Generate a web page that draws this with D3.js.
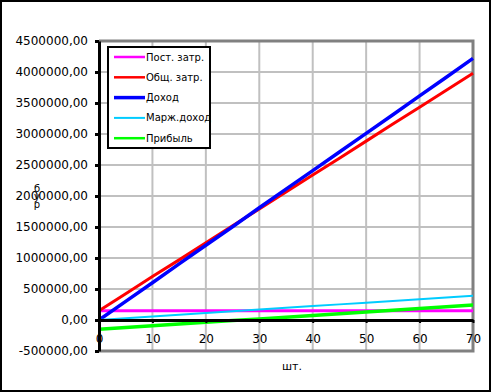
<!DOCTYPE html>
<html>
<head>
<meta charset="utf-8">
<script src="https://cdn.jsdelivr.net/npm/d3@7"></script>
<style>
  body { margin: 0; background: #fff; }
  svg { display: block; font-family: 'DejaVu Sans', sans-serif; }
</style>
</head>
<body>
<svg id="chart" width="491" height="392"></svg>
<script>
// values
const units = [0, 5, 10, 15, 20, 25, 30, 35, 40, 45, 50, 55, 60, 65, 70];
const fixedCost = [150000, 150000, 150000, 150000, 150000, 150000, 150000, 150000, 150000, 150000, 150000, 150000, 150000, 150000, 150000];
const totalCost = [150000, 425000, 700000, 970000, 1245000, 1520000, 1790000, 2065000, 2340000, 2610000, 2885000, 3160000, 3430000, 3705000, 3980000];
const revenue = [0, 300000, 600000, 905000, 1205000, 1505000, 1810000, 2110000, 2410000, 2710000, 3010000, 3310000, 3615000, 3915000, 4220000];
const margin = [0, 28000, 56000, 84000, 112000, 140000, 168000, 196000, 224000, 252000, 280000, 308000, 336000, 364000, 390000];
const profit = [-150000, -122000, -94000, -66000, -38000, -10000, 18000, 46000, 74000, 102000, 130000, 158000, 186000, 214000, 240000];
const xTicks = [0, 10, 20, 30, 40, 50, 60, 70];
const yTicks = [-500000, 0, 500000, 1000000, 1500000, 2000000, 2500000, 3000000, 3500000, 4000000, 4500000];

const series = [
  { name: 'Пост. затр.', values: fixedCost, color: '#ff00ff', width: 3, legendWidth: 2.5 },
  { name: 'Общ. затр.', values: totalCost, color: '#ff0000', width: 3, legendWidth: 2.5 },
  { name: 'Доход', values: revenue, color: '#0000ff', width: 3.5, legendWidth: 3.5 },
  { name: 'Марж.доход', values: margin, color: '#00ccff', width: 2, legendWidth: 2 },
  { name: 'Прибыль', values: profit, color: '#00ff00', width: 3.5, legendWidth: 2.5 },
];

const plot = { left: 99, right: 473, top: 41, bottom: 351 };

const svg = d3.select('#chart');

// outer frame
svg.append('rect')
  .attr('x', 1).attr('y', 1).attr('width', 489).attr('height', 390)
  .attr('fill', '#fff').attr('stroke', '#000').attr('stroke-width', 2);

const x = d3.scaleLinear().domain([0, 70]).range([plot.left, plot.right]);
const y = d3.scaleLinear().domain([-500000, 4500000]).range([plot.bottom, plot.top]);

const loc = d3.formatLocale({ decimal: ',', thousands: '', grouping: [3], currency: ['', ''], minus: '-' });
const fmt = loc.format('.2f');

// grid
const grid = svg.append('g').attr('stroke', '#c0c0c0').attr('stroke-width', 2);
grid.selectAll('.gx').data(xTicks.slice(1, -1)).enter().append('line')
  .attr('x1', d => x(d)).attr('x2', d => x(d))
  .attr('y1', plot.top).attr('y2', plot.bottom);
grid.selectAll('.gy').data(yTicks.slice(1, -1)).enter().append('line')
  .attr('x1', plot.left).attr('x2', plot.right)
  .attr('y1', d => y(d)).attr('y2', d => y(d));

// plot border (top, right, bottom)
svg.append('path')
  .attr('d', `M${plot.left},${plot.top}H${plot.right}V${plot.bottom}H${plot.left}`)
  .attr('fill', 'none').attr('stroke', '#808080').attr('stroke-width', 3);

// lines
const line = d3.line().x((d, i) => x(units[i])).y(d => y(d));
svg.append('g').selectAll('path').data(series).enter().append('path')
  .attr('d', d => line(d.values))
  .attr('fill', 'none')
  .attr('stroke', d => d.color)
  .attr('stroke-width', d => d.width)
  .attr('stroke-linejoin', 'round');

// x axis at zero
const xAxis = svg.append('g')
  .attr('transform', `translate(0,${y(0)})`)
  .call(d3.axisBottom(x).tickValues(xTicks).tickSize(3).tickPadding(11).tickSizeOuter(0));
xAxis.select('.domain').attr('stroke', '#000').attr('stroke-width', 3);
xAxis.selectAll('.tick line').attr('stroke', '#000').attr('stroke-width', 2);
xAxis.selectAll('text').attr('font-size', '12px').attr('fill', '#000')
  .attr('font-family', 'DejaVu Sans, sans-serif');

// y axis
const yAxis = svg.append('g')
  .attr('transform', `translate(${plot.left},0)`)
  .call(d3.axisLeft(y).tickValues(yTicks).tickFormat(fmt).tickSize(4).tickPadding(7).tickSizeOuter(0));
yAxis.select('.domain').attr('stroke', '#000').attr('stroke-width', 3);
yAxis.selectAll('.tick line').attr('stroke', '#000').attr('stroke-width', 3);
yAxis.selectAll('text').attr('font-size', '12px').attr('fill', '#000')
  .attr('font-family', 'DejaVu Sans, sans-serif');

// axis titles
svg.append('text').text('шт.')
  .attr('x', 292).attr('y', 370).attr('text-anchor', 'middle')
  .attr('font-size', '11px').attr('fill', '#000');

// stacked y title (letters overlap the tick label, as in the original)
const yTitle = svg.append('text').attr('font-size', '10px').attr('fill', '#000').attr('text-anchor', 'middle');
['б', 'у', 'р'].forEach((ch, i) => {
  yTitle.append('tspan').text(ch).attr('x', 37).attr('y', 192 + i * 8);
});

// legend
const legend = svg.append('g');
legend.append('rect')
  .attr('x', 108).attr('y', 47).attr('width', 102).attr('height', 101)
  .attr('fill', '#fff').attr('stroke', '#000').attr('stroke-width', 2);
const item = legend.selectAll('.item').data(series).enter().append('g')
  .attr('transform', (d, i) => `translate(0,${57 + i * 20.3})`);
item.append('line')
  .attr('x1', 114).attr('x2', 145).attr('y1', 0).attr('y2', 0)
  .attr('stroke', d => d.color).attr('stroke-width', d => d.legendWidth);
item.append('text').text(d => d.name)
  .attr('x', 146).attr('y', 3.5)
  .attr('font-size', '10px').attr('fill', '#000');
</script>
</body>
</html>
